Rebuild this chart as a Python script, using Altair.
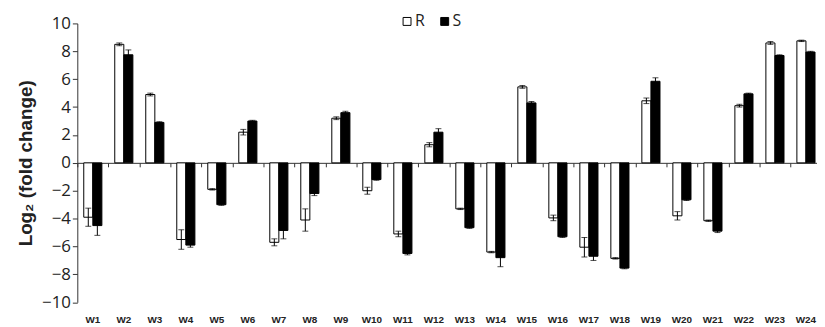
import altair as alt
import pandas as pd

genes = [f"W{i}" for i in range(1, 25)]
groups = ["R", "S"]
r_vals = [-3.9, 8.5, 4.9, -5.5, -1.9, 2.2, -5.7, -4.1, 3.2, -2.0, -5.1, 1.3,
          -3.3, -6.4, 5.45, -3.95, -6.05, -6.85, 4.45, -3.8, -4.15, 4.1, 8.6, 8.75]
r_errs = [0.65, 0.1, 0.1, 0.7, 0.05, 0.2, 0.25, 0.8, 0.1, 0.25, 0.2, 0.15,
          0.05, 0.05, 0.1, 0.2, 0.7, 0.05, 0.2, 0.3, 0.05, 0.1, 0.1, 0.05]
s_vals = [-4.5, 7.75, 2.9, -5.9, -3.0, 3.0, -4.85, -2.2, 3.6, -1.2, -6.5, 2.2,
          -4.65, -6.8, 4.3, -5.3, -6.7, -7.55, 5.85, -2.65, -4.9, 4.95, 7.7, 7.95]
s_errs = [0.7, 0.35, 0.05, 0.15, 0.05, 0.05, 0.6, 0.15, 0.1, 0.05, 0.1, 0.25,
          0.05, 0.65, 0.1, 0.05, 0.3, 0.05, 0.25, 0.05, 0.1, 0.05, 0.05, 0.05]
y_ticks = list(range(-10, 11, 2))

rows = []
for g, v, e in zip(genes, r_vals, r_errs):
    rows.append({"gene": g, "grp": "R", "val": v, "lo": v - e, "hi": v + e})
for g, v, e in zip(genes, s_vals, s_errs):
    rows.append({"gene": g, "grp": "S", "val": v, "lo": v - e, "hi": v + e})
df = pd.DataFrame(rows)

W = 747          # visible plot width (page is 825 wide)
XR = 751.5       # band range: the last group runs past the page edge, as in the reference
H = 281.6
AX = "#333333"

xscale = alt.Scale(domain=genes, paddingInner=0, paddingOuter=0, range=[0, XR])
xoff = alt.XOffset("grp:N", sort=groups, scale=alt.Scale(domain=groups, paddingOuter=0.71, paddingInner=0))
yscale = alt.Scale(domain=[-10, 10], nice=False)
yaxis = alt.Axis(values=y_ticks, title="Log₂ (fold change)", titleFont="Liberation Sans",
                 titleFontSize=19, titleFontWeight="bold", titleColor="#222222", titlePadding=6,
                 labelFont="Open Sans", labelFontSize=17, labelColor="#222222", labelPadding=2,
                 tickSize=5, tickColor=AX, domainColor=AX, grid=False)

label_axis = alt.Axis(orient="top", offset=-(H + 22), domain=False, ticks=False, tickSize=0,
                      labelPadding=0, labelAngle=0, labelFont="Liberation Sans", labelFontSize=10,
                      labelFontWeight="bold", labelColor="#222222", title=None, grid=False,
                      labelOverlap=False, labelBound=False)
zero_axis = alt.Axis(orient="bottom", offset=-H / 2, labels=False, domain=True, domainColor=AX,
                     ticks=True, tickBand="extent", tickSize=4, tickColor=AX, title=None, grid=False)

base = alt.Chart(df)

bars = base.mark_bar(stroke="black", strokeWidth=1).encode(
    x=alt.X("gene:N", sort=genes, scale=xscale, axis=label_axis),
    xOffset=xoff,
    y=alt.Y("val:Q", scale=yscale, axis=yaxis),
    fill=alt.Fill("grp:N", scale=alt.Scale(domain=groups, range=["white", "black"]),
                  legend=alt.Legend(title=None, orient="none", legendX=325, legendY=-10,
                                    direction="horizontal", symbolType="square", symbolSize=64,
                                    symbolStrokeColor="black", symbolStrokeWidth=1,
                                    labelFont="Open Sans", labelFontSize=16, labelColor="#222222",
                                    labelOffset=0, columnPadding=12, padding=0)),
)

whisk = base.mark_rule(color="black", strokeWidth=1).encode(
    x=alt.X("gene:N", sort=genes, scale=xscale, axis=zero_axis),
    xOffset=xoff,
    y=alt.Y("lo:Q", scale=yscale, axis=yaxis),
    y2="hi:Q",
)

cap_lo = base.mark_tick(color="black", thickness=1, size=6).encode(
    x=alt.X("gene:N", sort=genes, scale=xscale, axis=None),
    xOffset=xoff,
    y=alt.Y("lo:Q", scale=yscale, axis=yaxis),
)
cap_hi = base.mark_tick(color="black", thickness=1, size=6).encode(
    x=alt.X("gene:N", sort=genes, scale=xscale, axis=None),
    xOffset=xoff,
    y=alt.Y("hi:Q", scale=yscale, axis=yaxis),
)

chart = alt.layer(bars, whisk, cap_lo, cap_hi).resolve_axis(x="independent").properties(
    width=W, height=H, autosize="none",
    padding={"left": 70, "top": 14, "right": 0, "bottom": 24},
).configure_view(stroke=None)

chart.save("out.html", embed_options={"renderer": "svg", "actions": False})
